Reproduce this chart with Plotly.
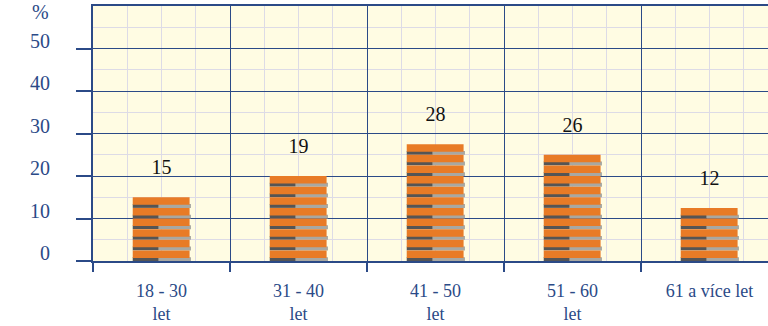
import plotly.graph_objects as go

categories = ["18 - 30<br>let", "31 - 40<br>let", "41 - 50<br>let", "51 - 60<br>let", "61 a více let"]
values = [15, 19, 28, 26, 12]
y_ticks = [0, 10, 20, 30, 40, 50]
unit = 2.5  # one pictograph stripe

BLUE = "#2B4A87"
FONT = "Liberation Serif, serif"

# build stacked pictograph stripes from the values
xs, bases = [], []
for i, v in enumerate(values):
    n = round(v / unit)
    for k in range(n):
        xs.append(i)
        bases.append(k * unit)

fig = go.Figure()
fig.add_trace(go.Bar(x=xs, base=bases, y=[unit * 0.36] * len(xs), width=0.19, offset=-0.21,
                     marker=dict(color="#555555", line=dict(width=0)), hoverinfo="skip"))
fig.add_trace(go.Bar(x=xs, base=bases, y=[unit * 0.36] * len(xs), width=0.235, offset=-0.02,
                     marker=dict(color="#A8A8A2", line=dict(width=0)), hoverinfo="skip"))
fig.add_trace(go.Bar(x=xs, base=[b + unit * 0.29 for b in bases], y=[unit * 0.71] * len(xs),
                     width=0.415, offset=-0.21,
                     marker=dict(color="#E87B26", line=dict(width=0)), hoverinfo="skip"))

# value labels
tops = [round(v / unit) * unit for v in values]
fig.add_trace(go.Scatter(x=list(range(len(values))), y=[t + 6.6 for t in tops], mode="text",
                         text=[str(v) for v in values], textposition="middle center",
                         textfont=dict(family=FONT, size=20, color="#111111"),
                         xaxis="x2", cliponaxis=False, hoverinfo="skip"))

xr = [-0.5, 4.5 - 10 / 137]
fig.update_layout(
    width=768, height=326,
    margin=dict(l=93, r=0, t=6, b=65),
    paper_bgcolor="white", plot_bgcolor="#FFFCE3",
    barmode="overlay", showlegend=False,
    font=dict(family=FONT),
    xaxis=dict(range=xr, tickmode="array", tickvals=[i - 0.5 for i in range(len(values) + 1)],
               showticklabels=False, ticks="outside", ticklen=9, tickwidth=1.5, tickcolor=BLUE,
               showgrid=True, gridcolor=BLUE, gridwidth=1.3, automargin=False,
               minor=dict(tickmode="linear", tick0=-0.5, dtick=0.25, showgrid=True,
                          gridcolor="#DDDBE6", gridwidth=1.3, ticks=""),
               showline=True, linecolor=BLUE, linewidth=2, mirror=True, zeroline=False),
    xaxis2=dict(range=xr, overlaying="x", side="bottom", tickmode="array",
                tickvals=list(range(len(values))), ticktext=categories, automargin=False,
                showgrid=False, ticks="", showline=False, zeroline=False,
                tickfont=dict(family=FONT, size=18, color=BLUE), ticklabelstandoff=17),
    yaxis=dict(range=[0, 60], tickmode="array", tickvals=y_ticks, ticktext=[str(t) for t in y_ticks],
               ticks="outside", ticklen=15, tickwidth=1.5, tickcolor=BLUE, automargin=False,
               showgrid=True, gridcolor=BLUE, gridwidth=1.3,
               minor=dict(tickmode="linear", tick0=0, dtick=5, showgrid=True,
                          gridcolor="#DDDBE6", gridwidth=1.3, ticks=""),
               showline=True, linecolor=BLUE, linewidth=2, zeroline=False,
               tickfont=dict(family=FONT, size=20, color=BLUE),
               ticklabelstandoff=22, ticklabelshift=-8),
    annotations=[dict(text="%", xref="paper", yref="y", x=(40 - 93) / 675, y=58.6,
                      showarrow=False, xanchor="center", yanchor="middle",
                      font=dict(family=FONT, size=20, color=BLUE))],
)

fig.write_html("out.html")
